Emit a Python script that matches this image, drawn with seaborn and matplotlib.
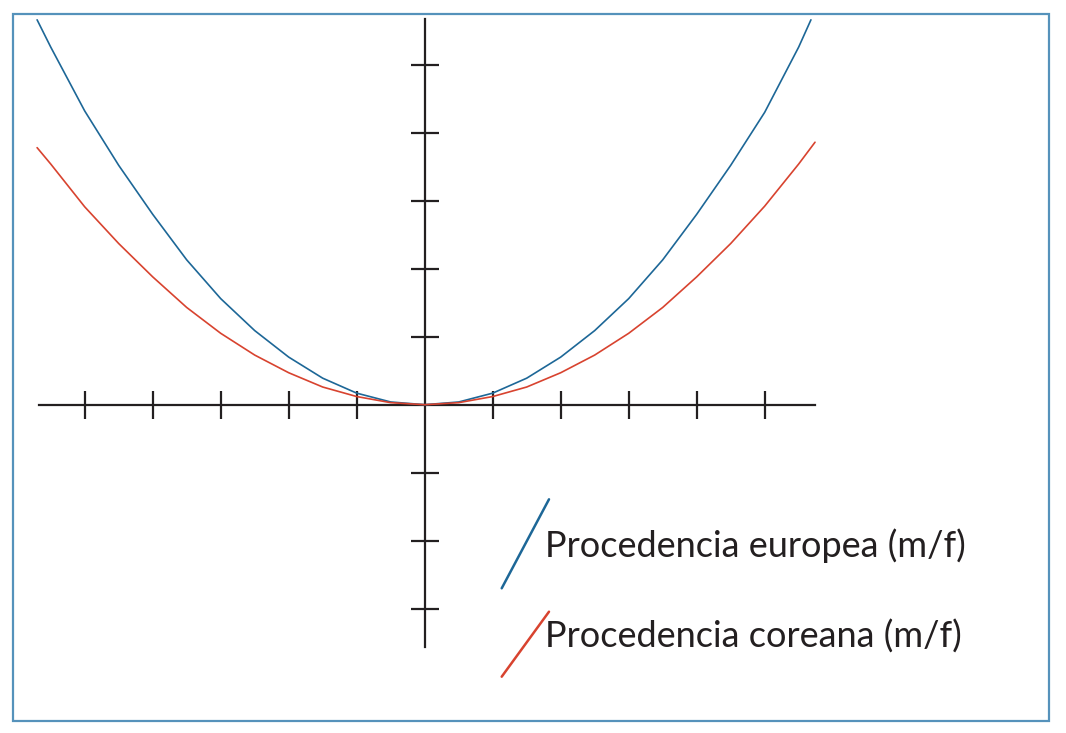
import pandas as pd
import seaborn as sns
import matplotlib.pyplot as plt
from matplotlib.lines import Line2D
from matplotlib.patches import Rectangle

# valores (unidades de la cuadricula)
x_europea = [-5.7, -5.5, -5.0, -4.5, -4.0, -3.5, -3.0, -2.5, -2.0, -1.5, -1.0, -0.5, 0.0,
             0.5, 1.0, 1.5, 2.0, 2.5, 3.0, 3.5, 4.0, 4.5, 5.0, 5.5, 5.68]
y_europea = [5.66, 5.26, 4.32, 3.52, 2.80, 2.13, 1.56, 1.09, 0.70, 0.39, 0.17, 0.04, 0.0,
             0.04, 0.17, 0.39, 0.70, 1.09, 1.56, 2.13, 2.80, 3.52, 4.30, 5.26, 5.66]

x_coreana = [-5.7, -5.5, -5.0, -4.5, -4.0, -3.5, -3.0, -2.5, -2.0, -1.5, -1.0, -0.5, 0.0,
             0.5, 1.0, 1.5, 2.0, 2.5, 3.0, 3.5, 4.0, 4.5, 5.0, 5.5, 5.74]
y_coreana = [3.78, 3.54, 2.91, 2.37, 1.88, 1.43, 1.05, 0.73, 0.47, 0.26, 0.12, 0.03, 0.0,
             0.03, 0.12, 0.26, 0.47, 0.73, 1.05, 1.43, 1.88, 2.37, 2.92, 3.54, 3.86]

etiquetas = ["Procedencia europea (m/f)", "Procedencia coreana (m/f)"]
colores = ["#1d6797", "#d8432f"]

df = pd.concat([
    pd.DataFrame({"x": x_europea, "y": y_europea, "serie": etiquetas[0]}),
    pd.DataFrame({"x": x_coreana, "y": y_coreana, "serie": etiquetas[1]}),
])

sns.set_style("white")
plt.rcParams['font.family'] = ['Lato', 'DejaVu Sans']

W, H = 1066, 733
fig = plt.figure(figsize=(W / 100, H / 100), dpi=100)
ax = fig.add_axes([0, 0, 1, 1])

sns.lineplot(data=df, x="x", y="y", hue="serie", palette=colores, sort=False,
             estimator=None, linewidth=1.2, legend=False, ax=ax)

# escala: origen en (424.7, 404.7) px, 68 px por unidad
x0, y0, u = 424.7, 404.7, 68.0
ax.set_xlim(-x0 / u, (W - x0) / u)
ax.set_ylim(-(H - y0) / u, y0 / u)

for s in ["top", "right"]:
    ax.spines[s].set_visible(False)
ax.spines["left"].set_position(("data", 0))
ax.spines["bottom"].set_position(("data", 0))
ax.spines["bottom"].set_bounds(-5.67, 5.74)
ax.spines["left"].set_bounds(-3.56, 5.67)
for s in ["left", "bottom"]:
    ax.spines[s].set_color("#231f20")
    ax.spines[s].set_linewidth(1.6)
    ax.spines[s].set_zorder(1)

ax.set_xticks([-5, -4, -3, -2, -1, 1, 2, 3, 4, 5])
ax.set_yticks([-3, -2, -1, 1, 2, 3, 4, 5])
ax.tick_params(bottom=True, left=True, direction="inout", length=20, width=1.6,
               color="#231f20", labelbottom=False, labelleft=False)
ax.set_xlabel("")
ax.set_ylabel("")
ax.patch.set_alpha(0)

# marco
fig.patches.append(Rectangle((12.5 / W, 1 - 720.5 / H), (1048.5 - 12.5) / W, (720.5 - 13.5) / H,
                             transform=fig.transFigure, fill=False, edgecolor="#5592bb",
                             linewidth=1.6))

# leyenda con trazos inclinados
glifos = [((501.7, 588.3), (549, 499.3)), ((501.7, 676.7), (549, 611.7))]
bases = [557, 648]
for (p, q), b, lab, c in zip(glifos, bases, etiquetas, colores):
    fig.add_artist(Line2D([p[0] / W, q[0] / W], [1 - p[1] / H, 1 - q[1] / H],
                          transform=fig.transFigure, color=c, linewidth=1.8))
    fig.text(545 / W, 1 - b / H, lab, fontsize=26, color="#231f20",
             ha="left", va="baseline")

fig.savefig("out.png", dpi=100)
